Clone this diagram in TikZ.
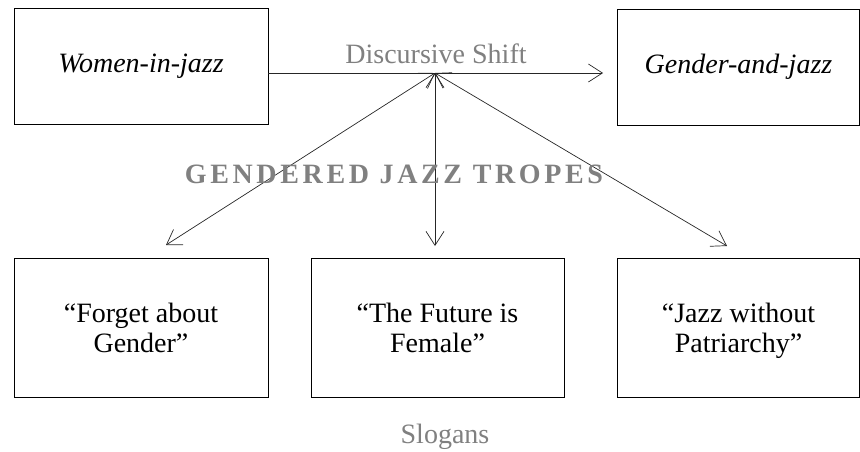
\documentclass[tikz,border=0pt]{standalone}
\usepackage{fontspec}
\setmainfont{Liberation Serif}
\newfontfamily\tropesfont[LetterSpace=13]{Liberation Serif}
\usetikzlibrary{arrows.meta}
\definecolor{lblgray}{RGB}{128,128,128}
\newcommand{\sloganline}[1]{\smash{#1}\rule[-2pt]{0pt}{2pt}}

\begin{document}
\begin{tikzpicture}[x=1pt, y=-1pt,
        box/.style={draw, line width=0.9pt, minimum width=254pt, minimum height=139pt,
          inner sep=0pt, align=center, font=\fontsize{28}{30}\selectfont},
        topbox/.style={box, minimum height=116pt, font=\fontsize{28}{30}\selectfont\itshape},
        lnk/.style={line width=0.7pt, draw=black!85},
        >={Straight Barb[length=14pt, width=18pt]},
        lbl/.style={text=lblgray, font=\fontsize{28}{30}\selectfont, anchor=base}]

      \useasboundingbox (0,0) rectangle (860,451);

      % discourses
      \node[topbox] (women) at (141,66) {Women-in-jazz};
      \node[topbox, minimum width=242pt] (gender) at (738.5,67) {Gender-and-jazz};

      % slogans
      \node[box] (forget) at (141,327.5) {\strut“Forget about\\\sloganline{Gender”}};
      \node[box, minimum width=253pt] (future) at (437.5,327.5) {\strut“The Future is\\\sloganline{Female”}};
      \node[box, minimum width=242pt] (patriarchy) at (738.5,327.5) {\strut“Jazz without\\\sloganline{Patriarchy”}};

      % hub and arrow ends
      \coordinate (hub) at (435,73);
      \coordinate (forgetend) at (166,245);
      \coordinate (futureend) at (435,246);
      \coordinate (patriarchyend) at (727,246);

      \draw[lnk, ->] (women.east |- hub) -- ([xshift=-14pt]gender.west |- hub);
      \draw[lnk, <->] (hub) -- (forgetend);
      \draw[lnk, <->] (hub) -- (futureend);
      \draw[lnk, <->] (hub) -- (patriarchyend);

      % labels
      \node[lbl] (shift) at (436,63) {Discursive Shift};
      \node[lbl, font=\fontsize{28}{30}\tropesfont\bfseries] (tropes) at (394,183)
        {GENDERED JAZZ TROPES};
      \node[lbl] (slogans) at (445,443) {Slogans};
    \end{tikzpicture}
\end{document}
